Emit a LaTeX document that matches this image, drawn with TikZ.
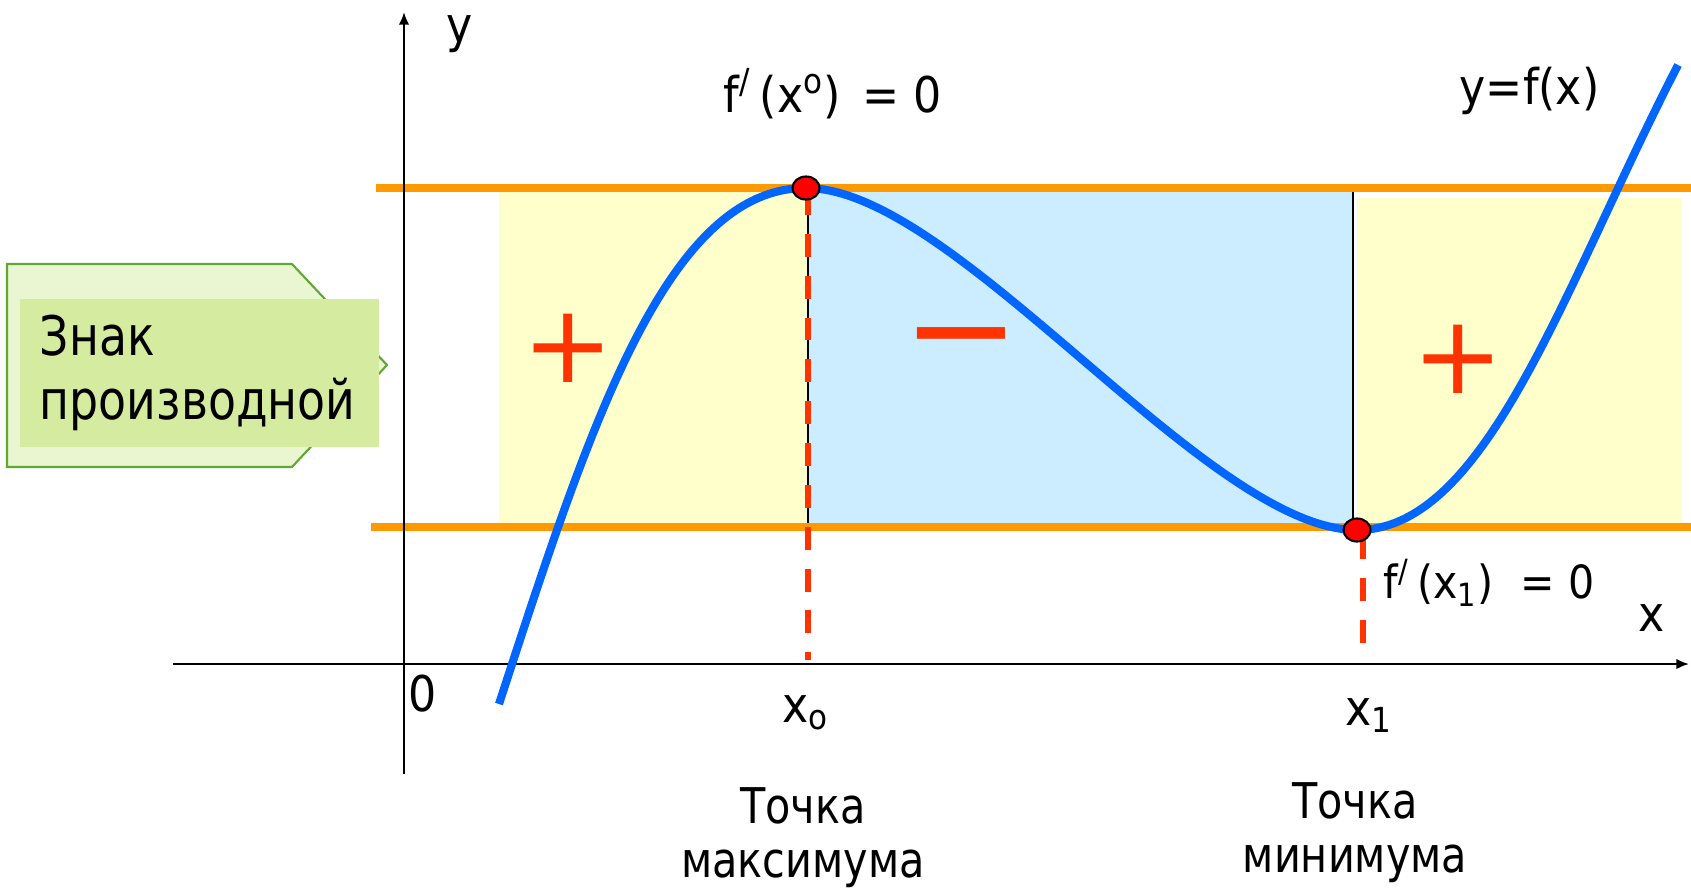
\documentclass[tikz,border=0pt]{standalone}
\usepackage{fontspec}
\setmainfont{DejaVu Sans}[FakeStretch=0.9]
\newfontfamily\signfont{DejaVu Sans}
\newfontfamily\narrowfont{DejaVu Sans}[FakeStretch=0.84]
\usetikzlibrary{arrows.meta,shapes.geometric}
\definecolor{bandorange}{HTML}{FF9900}
\definecolor{curveblue}{HTML}{0066FF}
\definecolor{plusyellow}{HTML}{FFFFCC}
\definecolor{minusblue}{HTML}{CCECFF}
\definecolor{signred}{HTML}{FF3300}
\definecolor{labelgreen}{HTML}{D4EBA0}
\definecolor{labelpale}{HTML}{EAF6D2}
\definecolor{labeledge}{HTML}{60A830}
\tikzset{
  axis/.style={line width=0.6pt, -{Latex[length=3.6pt,width=3pt]}},
  band/.style={bandorange, line width=2.3pt},
  edge/.style={line width=0.6pt},
  dropline/.style={signred, line width=1.7pt, dash pattern=on 6.5pt off 5.4pt},
  curve/.style={curveblue, line width=2.3pt},
  extremum/.style={ellipse, draw, line width=0.6pt, fill=red, minimum width=0.27cm, minimum height=0.23cm, inner sep=0pt},
  lbl/.style={inner sep=0pt, font=\fontsize{14}{15.4}\selectfont},
  pointname/.style={lbl, align=center, anchor=north, font=\narrowfont\fontsize{14}{15.4}\selectfont},
  sign/.style={inner sep=0pt, text=signred, anchor=base},
}
\newcommand{\eqgap}{\hspace{2pt}}
\begin{document}
\begin{tikzpicture}[x=0.01cm,y=-0.01cm]
\useasboundingbox (0,0) rectangle (1691,890);
% intervals of the sign
\fill[plusyellow] (499,192) rectangle (808,525);
\fill[minusblue] (808,192) rectangle (1353,527);
\fill[plusyellow] (1357,198) rectangle (1682,528);
\coordinate (maxtop) at (808,190);
\coordinate (maxbase) at (808,527);
\coordinate (mintop) at (1353,192);
\coordinate (minbase) at (1353,527);
\draw[edge] (maxtop) -- (maxbase);
\draw[edge] (mintop) -- (minbase);
% levels of the extrema
\coordinate (hiL) at (376,188);
\coordinate (hiR) at (1691,188);
\coordinate (loL) at (371,527);
\coordinate (loR) at (1691,527);
\draw[band] (hiL) -- (hiR);
\draw[band] (loL) -- (loR);
% axes
\coordinate (xstart) at (173,664);
\coordinate (xend) at (1689,664);
\coordinate (ystart) at (404,774);
\coordinate (yend) at (404,12);
\draw[axis] (xstart) -- (xend);
\draw[axis] (ystart) -- (yend);
\node[lbl] (ylab) at (460,34) {y};
\node[lbl] (xlab) at (1652,618) {x};
\node[lbl] (zero) at (423,694) {0};
% label box
\fill[labelpale, draw=labeledge, line width=0.6pt]
  (7,264) -- (292,264) -- (387,365) -- (292,467) -- (7,467) -- cycle;
\node[fill=labelgreen, minimum width=3.59cm, minimum height=1.48cm,
  text width=3.19cm, align=left, inner sep=0pt,
  font=\narrowfont\fontsize{15.5}{18}\selectfont] (signname) at (199.5,373)
  {Знак\\производной};
% signs
\node[sign, font=\signfont\fontsize{31}{31}\selectfont] (plusleft) at (568,382) {+};
\node[sign, font=\signfont\fontsize{31}{31}\selectfont] (plusright) at (1458,393) {+};
\node[sign, font=\signfont\fontsize{40}{40}\selectfont] (minus) at (961,377) {−};
% drop lines
\coordinate (x0top) at (808,192);
\coordinate (x0foot) at (808,660);
\coordinate (x1top) at (1363,536);
\coordinate (x1foot) at (1363,658);
\draw[dropline] (x0top) -- (x0foot);
\draw[dropline] (x1top) -- (x1foot);
% graph
\draw[curve] (499,704) .. controls (589,428) and (666,188) .. (806,188)
  .. controls (956,188) and (1207,530) .. (1357,530)
  .. controls (1487,530) and (1563,288) .. (1678,65);
\node[extremum] (maxdot) at (806,188) {};
\node[extremum] (mindot) at (1357,530) {};
% texts
\node[lbl, anchor=base west] (dmax) at (723,112)
  {f\textsuperscript{/}\,(x\textsuperscript{o})\eqgap{} = 0};
\node[lbl, anchor=base west, font=\fontsize{13}{15}\selectfont] (dmin) at (1383,598)
  {f\textsuperscript{/}\,(x\textsubscript{1})\eqgap\eqgap{} = 0};
\node[lbl, anchor=base west] (fname) at (1459,104) {y=f(x)};
\node[lbl, anchor=base west] (x0lab) at (782,722) {x\textsubscript{o}};
\node[lbl, anchor=base west] (x1lab) at (1345,725) {x\textsubscript{1}};
\node[pointname] (maxname) at (803,787) {Точка\\максимума};
\node[pointname] (minname) at (1355,782) {Точка\\минимума};
\end{tikzpicture}
\end{document}
